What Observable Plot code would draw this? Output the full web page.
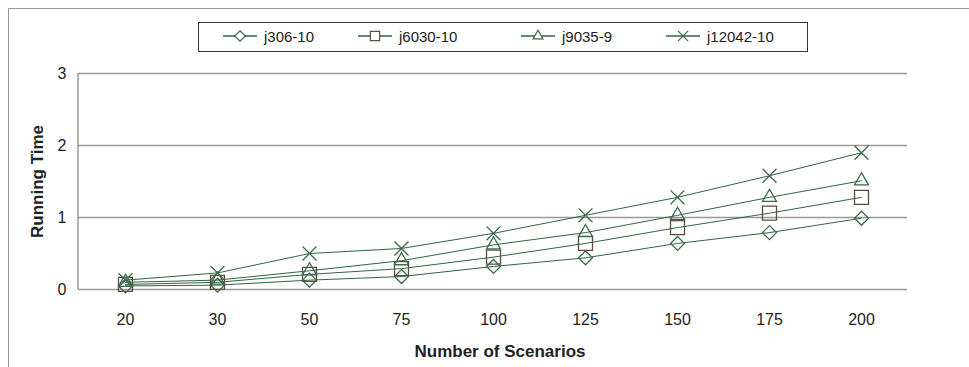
<!DOCTYPE html>
<html>
<head>
<meta charset="utf-8">
<script src="https://cdn.jsdelivr.net/npm/d3@7"></script>
<script src="https://cdn.jsdelivr.net/npm/@observablehq/plot@0.6"></script>
<style>
  html, body { margin: 0; padding: 0; background: #fff; }
  body { width: 969px; height: 367px; overflow: hidden; position: relative; font-family: "Liberation Sans", Arial, sans-serif; }
  #frame { position: absolute; left: 8px; top: 8px; width: 980px; height: 380px; border-left: 1.5px solid #999; border-top: 1.5px solid #999; }
  #chart { position: absolute; left: 0; top: 0; }
  #legend { position: absolute; left: 198px; top: 22px; width: 610px; height: 30px; border: 1.5px solid #333; background: #fff; box-sizing: border-box; font-size: 15px; color: #222; }
  .item { position: absolute; top: 3px; display: flex; align-items: center; height: 20px; }
  .item svg { margin-right: 5px; }
</style>
</head>
<body>
<div id="frame"></div>
<div id="chart"></div>
<div id="legend"></div>
<script>
const scenarios = [20, 30, 50, 75, 100, 125, 150, 175, 200];
const seriesNames = ["j306-10", "j6030-10", "j9035-9", "j12042-10"];
const j306_10   = [0.05, 0.06, 0.13, 0.18, 0.32, 0.44, 0.64, 0.79, 0.99];
const j6030_10  = [0.07, 0.10, 0.21, 0.29, 0.45, 0.64, 0.86, 1.06, 1.28];
const j9035_9   = [0.10, 0.13, 0.26, 0.40, 0.62, 0.79, 1.03, 1.28, 1.51];
const j12042_10 = [0.13, 0.23, 0.50, 0.57, 0.78, 1.03, 1.28, 1.58, 1.90];
const yTicks = [0, 1, 2, 3];

const seriesValues = [j306_10, j6030_10, j9035_9, j12042_10];
const symbols = ["diamond2", "square2", "triangle2", "times"];
const markerR = [6.3, 8.9, 6.7, 6.4];
const markerColors = ["#3a6a4c", "#5c4e38", "#3a6a4c", "#3a6a4c"];
const lineColor = "#2f6644";

const data = [];
seriesNames.forEach((name, i) => {
  scenarios.forEach((s, j) => data.push({series: name, scen: String(s), value: seriesValues[i][j]}));
});

const chart = Plot.plot({
  width: 969,
  height: 367,
  marginLeft: 78,
  marginRight: 62,
  marginTop: 73,
  marginBottom: 78,
  style: {fontFamily: "Liberation Sans, Arial, sans-serif", fontSize: "16px", color: "#222", background: "transparent"},
  x: {type: "band", domain: scenarios.map(String), padding: 0, label: null},
  y: {domain: [0, 3], ticks: yTicks, label: null},
  marks: [
    Plot.ruleY(yTicks, {stroke: "#999", strokeWidth: 1.5}),
    Plot.axisY({ticks: yTicks, tickSize: 0, tickPadding: 12, fontSize: 16, tickFormat: d3.format("d"), label: null}),
    Plot.axisX({tickSize: 0, tickPadding: 24, fontSize: 16, label: null}),
    Plot.text(["Running Time"], {frameAnchor: "left", textAnchor: "middle", dx: -41, rotate: -90, fontWeight: "bold", fontSize: 17, fill: "#222"}),
    Plot.text(["Number of Scenarios"], {frameAnchor: "bottom", textAnchor: "middle", dx: 7, dy: 67, fontWeight: "bold", fontSize: 17, fill: "#222"}),
    Plot.line(data, {x: "scen", y: "value", z: "series", stroke: lineColor, strokeWidth: 1}),
    ...seriesNames.map((name, i) => Plot.dot(data.filter(d => d.series === name), {
      x: "scen", y: "value", symbol: () => symbols[i], r: markerR[i], stroke: markerColors[i], strokeWidth: 1.3, fill: "none"
    }))
  ]
});
// left border of plot area
const svg = d3.select(chart);
svg.append("line").attr("x1", 78).attr("x2", 78).attr("y1", 73).attr("y2", 289).attr("stroke", "#999").attr("stroke-width", 1.5);
document.getElementById("chart").appendChild(chart);

// legend
const legend = document.getElementById("legend");
const lefts = [22, 157, 320, 465];
const symMap = {diamond2: d3.symbolDiamond2, square2: d3.symbolSquare2, triangle2: d3.symbolTriangle2, times: d3.symbolTimes};
seriesNames.forEach((name, i) => {
  const item = document.createElement("div");
  item.className = "item";
  item.style.left = lefts[i] + "px";
  const s = d3.create("svg").attr("width", 38).attr("height", 20);
  s.append("line").attr("x1", 2).attr("x2", 36).attr("y1", 10).attr("y2", 10).attr("stroke", lineColor).attr("stroke-width", 1.3);
  s.append("path").attr("transform", "translate(19,10)")
    .attr("d", d3.symbol(symMap[symbols[i]], i === 1 ? 110 : 70)())
    .attr("fill", "#fff").attr("stroke", markerColors[i]).attr("stroke-width", 1.2);
  item.appendChild(s.node());
  const t = document.createElement("span");
  t.textContent = name;
  item.appendChild(t);
  legend.appendChild(item);
});
</script>
</body>
</html>
